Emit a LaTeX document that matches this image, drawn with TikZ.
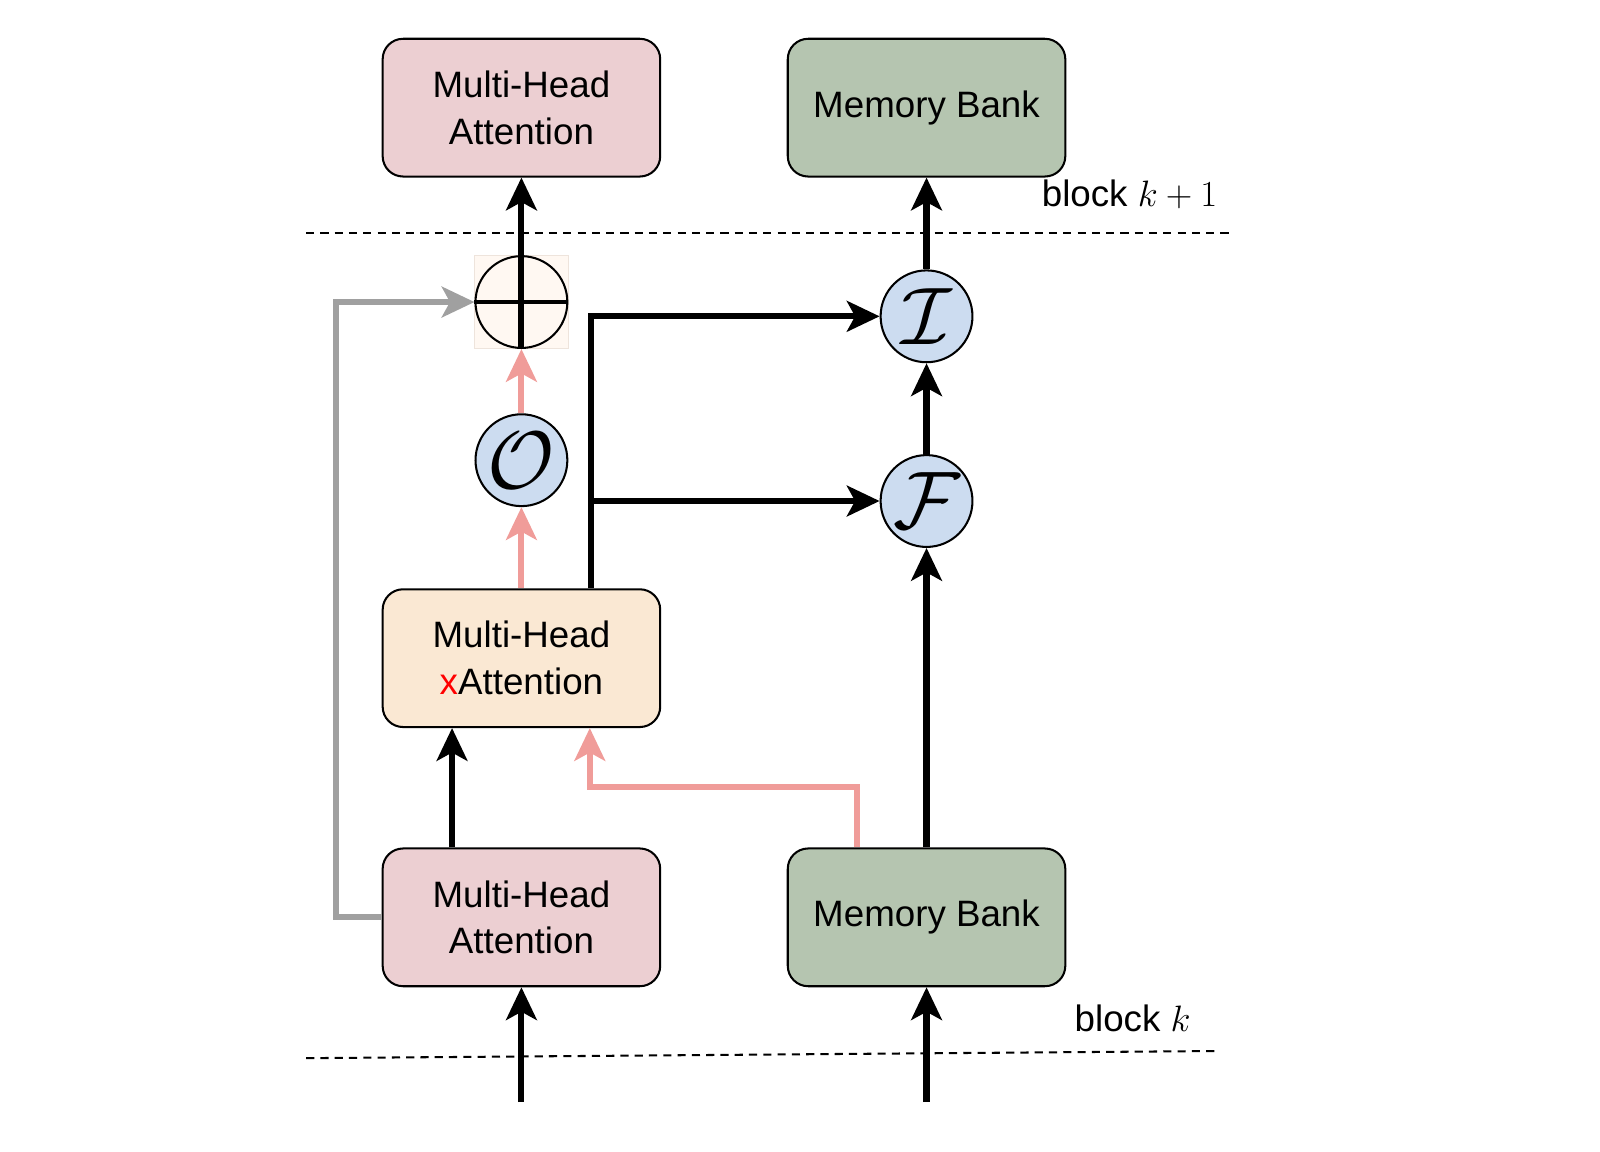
\RequirePackage{fix-cm}
\documentclass[tikz,border=0pt]{standalone}
\usepackage{fontspec}
\setmainfont{Liberation Sans}
\usetikzlibrary{arrows.meta}
\definecolor{pinkbox}{HTML}{ECCFD2}
\definecolor{greenbox}{HTML}{B5C5B0}
\definecolor{orangebox}{HTML}{FAE8D3}
\definecolor{bluec}{HTML}{CCDCF0}
\definecolor{pinkarr}{HTML}{F09C99}
\definecolor{grayarr}{HTML}{A0A0A0}
\definecolor{plusbg}{HTML}{FFF8F2}
\definecolor{plusbd}{HTML}{EEE4DC}
\tikzset{
  box/.style={draw=black, line width=1pt, rounded corners=10pt, minimum width=136pt, minimum height=67.5pt, align=center, font=\fontsize{18}{23}\selectfont, inner sep=0pt},
  circ/.style={draw=black, line width=1pt, circle, fill=bluec, minimum size=45pt, inner sep=0pt},
  tip/.style={-{Stealth[length=16pt, width=15pt, inset=4pt]}},
  blk/.style={tip, line width=3pt, draw=black},
  pnk/.style={tip, line width=3pt, draw=pinkarr},
  gry/.style={tip, line width=3pt, draw=grayarr},
  dsh/.style={line width=1pt, dash pattern=on 4pt off 3pt},
  lbl/.style={font=\fontsize{18}{22}\selectfont, inner sep=0pt}
}
\begin{document}
\begin{tikzpicture}[x=0.5pt, y=-0.5pt]
\useasboundingbox (0,0) rectangle (1568,1128);
% boxes
\node[box, fill=pinkbox] (mhaT) at (511,105.5) {Multi-Head\\Attention};
\node[box, fill=greenbox] (mbT) at (908,105.5) {Memory Bank};
\node[box, fill=orangebox] (xatt) at (511,645) {Multi-Head\\{\color{red}x}Attention};
\node[box, fill=pinkbox] (mhaB) at (511,899) {Multi-Head\\Attention};
\node[box, fill=greenbox] (mbB) at (908,899) {Memory Bank};
% circles
\node[draw=plusbd, fill=plusbg, line width=0.5pt, minimum size=46pt, inner sep=0pt] (plusbg) at (511,296) {};
\node[draw=black, line width=1pt, circle, minimum size=45pt, inner sep=0pt] (plus) at (511,296) {};
\draw[line width=2pt] (plus.west) -- (plus.east);
\node[circ] (O) at (511,451) {\fontsize{40}{40}\selectfont$\mathcal{O}$};
\node[circ] (I) at (908,310) {\fontsize{40}{40}\selectfont$\mathcal{I}$};
\node[circ] (F) at (908,491) {\fontsize{40}{40}\selectfont$\mathcal{F}$};
% dashed lines
\coordinate (d1a) at (300,228);
\coordinate (d1b) at (1205,228);
\coordinate (d2a) at (300,1037);
\coordinate (d2b) at (1192,1030);
\draw[dsh] (d1a) -- (d1b);
\draw[dsh] (d2a) -- (d2b);
% labels
\node[lbl] (bk1) at (1107,190) {block $k+1$};
\node[lbl] (bk) at (1110,998) {block $k$};
% input arrows
\coordinate (inL) at (511,1080);
\coordinate (inR) at (908,1080);
\draw[blk] (inL) -- (mhaB.south);
\draw[blk] (inR) -- (mbB.south);
% mhaB -> xatt
\draw[blk] (443,0 |- mhaB.north) -- (443,0 |- xatt.south);
% mbB -> xatt (pink)
\draw[pnk] (840,0 |- mbB.north) |- (578,771) -- (578,0 |- xatt.south);
% mbB -> F
\draw[blk] (mbB.north) -- (F.south);
% F -> I
\draw[blk] (F.north) -- (I.south);
% I -> mbT
\draw[blk] (I.north) -- (mbT.south);
% xatt -> O -> plus
\draw[pnk] (xatt.north) -- (O.south);
\draw[pnk] (O.north) -- (plus.south);
% plus -> mhaT
\draw[blk] (plus.south) -- (mhaT.south);
% xatt -> I, F
\draw[blk] (579,0 |- xatt.north) |- (I.west);
\draw[blk] (579,0 |- F.west) -- (F.west);
% residual
\draw[gry] (mhaB.west) -- (329,0 |- mhaB.west) |- (plus.west);
\end{tikzpicture}
\end{document}
